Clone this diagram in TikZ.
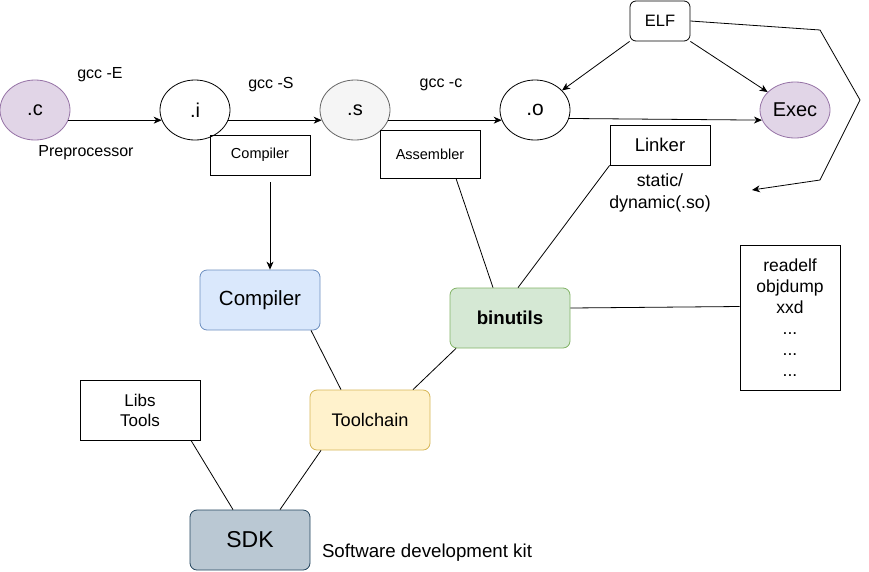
\documentclass[tikz,border=0pt]{standalone}
\usepackage{fontspec}
\setmainfont{Liberation Sans}
\usetikzlibrary{shapes.geometric,arrows.meta,positioning}
\definecolor{purpfill}{HTML}{E1D5E7}
\definecolor{purpline}{HTML}{9673A6}
\definecolor{greyfill}{HTML}{F5F5F5}
\definecolor{greyline}{HTML}{666666}
\definecolor{bluefill}{HTML}{DAE8FC}
\definecolor{blueline}{HTML}{6C8EBF}
\definecolor{greenfill}{HTML}{D5E8D4}
\definecolor{greenline}{HTML}{82B366}
\definecolor{yellowfill}{HTML}{FFF2CC}
\definecolor{yellowline}{HTML}{D6B656}
\definecolor{sdkfill}{HTML}{BAC8D3}
\definecolor{sdkline}{HTML}{23445D}
\newcommand{\fsz}[2]{\fontsize{#1}{#2}\selectfont}

\begin{document}
\begin{tikzpicture}[x=1pt, y=-1pt, line width=0.8pt,
    file/.style={ellipse, draw, minimum width=70pt, minimum height=60pt, inner sep=0pt, font=\fsz{20}{24}},
    smallbox/.style={draw, minimum width=100pt, minimum height=40pt, inner sep=0pt},
    toolbox/.style={draw, rounded corners=7pt, minimum width=120pt, minimum height=60pt, inner sep=0pt},
    label/.style={inner sep=0pt, font=\fsz{16}{19}},
    flow/.style={-{Stealth[length=8pt, width=7pt, inset=2.5pt]}}]
\useasboundingbox (0,0) rectangle (869,571);
% file stages
\node [file, fill=purpfill, draw=purpline] (c) at (35,110) {.c};
\node [file] (i) at (195,110) {.i};
\node [file, fill=greyfill, draw=greyline] (s) at (355,110) {.s};
\node [file, font=\fsz{21}{25}] (o) at (535,110) {.o};
\node [file, fill=purpfill, draw=purpline, minimum height=56pt, font=\fsz{20}{24}] (exec) at (795,110) {Exec};
\node [draw, rounded corners=6pt, minimum width=60pt, minimum height=40pt, font=\fsz{16.5}{20}] (elf) at (660,21) {ELF};
% commands
\node [label] (gccE) at (100,75) {gcc -E};
\node [label] (prep) at (86,153) {Preprocessor};
\node [label] (gccS) at (271,85) {gcc -S};
\node [label] (gccc) at (441,85) {gcc -c};
\node [smallbox, font=\fsz{14.5}{17}] (cmpl) at (260,155) {Compiler};
\node [smallbox, minimum height=48pt, font=\fsz{14.5}{17}] (asm) at (430,154) {Assembler};
\node [smallbox, font=\fsz{18.5}{22}] (linker) at (660,145) {Linker};
\node [inner sep=0pt, align=center, font=\fsz{17.7}{22}] (link) at (660,193) {static/\\dynamic(.so)};
\coordinate (back) at (752,190);
% tools
\node [toolbox, fill=bluefill, draw=blueline, font=\fsz{20.5}{24}] (compiler) at (260,300) {Compiler};
\node [toolbox, fill=greenfill, draw=greenline, font=\fsz{18.7}{22}\bfseries] (binutils) at (510,318) {binutils};
\node [toolbox, fill=yellowfill, draw=yellowline, font=\fsz{18.2}{22}] (toolchain) at (370,420) {Toolchain};
\node [toolbox, fill=sdkfill, draw=sdkline, font=\fsz{23}{27}] (sdk) at (250,540) {SDK};
\node [draw, minimum width=120pt, minimum height=60pt, inner sep=0pt, align=center, font=\fsz{17}{20}] (libs) at (140,410) {Libs\\Tools};
\node [draw, minimum width=100pt, minimum height=145pt, inner sep=0pt, align=center, font=\fsz{17.5}{21}] (utils) at (790,317.5) {readelf\\objdump\\xxd\\...\\...\\...};
\node [label, font=\fsz{18.7}{22}] (kit) at (427,553) {Software development kit};
% arrows
\draw [flow] (c.-17) -- (i.197);
\draw [flow] (i.-17) -- (s.197);
\draw [flow] (s.-17) -- (o.197);
\draw [flow] (o.-14) -- (exec.197);
\draw [flow] (elf.south west) -- (o);
\draw [flow] (elf.south east) -- (exec);
\draw [flow] (elf.east) -- (820,30) -- (860,100) -- (820,180) -- (back);
\draw [flow] ([xshift=10pt, yshift=-7pt]cmpl.south) -- ([xshift=10pt]compiler.north);
% links
\draw ([xshift=26pt]asm.south) -- ([xshift=-17pt]binutils.north);
\draw (linker.south west) -- ([xshift=8pt]binutils.north);
\draw ([yshift=10pt]binutils.east) -- ([yshift=11pt]utils.west);
\draw ([xshift=51pt]compiler.south) -- ([xshift=-29pt]toolchain.north);
\draw ([xshift=-54pt]binutils.south) -- ([xshift=43pt]toolchain.north);
\draw ([xshift=51pt]libs.south) -- ([xshift=-17pt]sdk.north);
\draw ([xshift=-49pt]toolchain.south) -- ([xshift=30pt]sdk.north);
\end{tikzpicture}
\end{document}
